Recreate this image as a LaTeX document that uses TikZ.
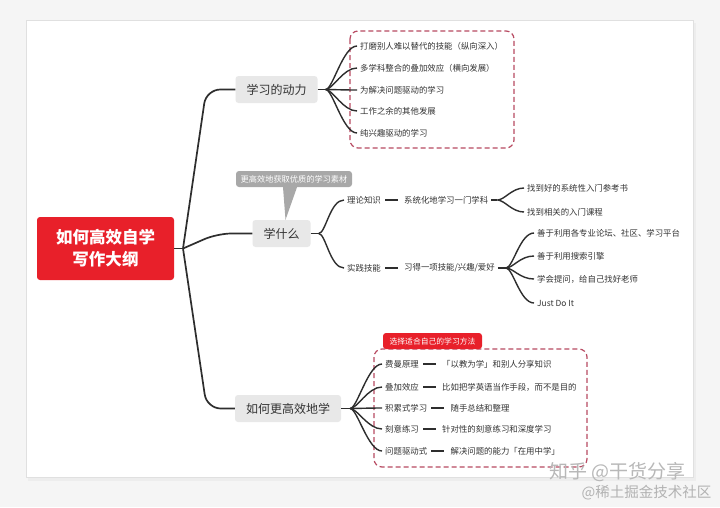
\documentclass[tikz,border=0pt]{standalone}
\usepackage{fontspec}
\setmainfont{Noto Sans CJK SC}
\usepackage{tikz}
\usetikzlibrary{positioning}
\definecolor{rootred}{HTML}{E8202A}
\definecolor{topicgray}{HTML}{E8E8E8}
\definecolor{calloutgray}{HTML}{A8A8A8}
\definecolor{linedark}{HTML}{2E2E2E}
\definecolor{frame}{HTML}{B84A62}
\definecolor{inkdark}{HTML}{333333}
\tikzset{
  rootbox/.style={fill=rootred, rounded corners=3pt, text=white, minimum width=137pt, minimum height=63pt, align=center, font=\fontsize{16.5}{22}\selectfont\bfseries},
  topic/.style={fill=topicgray, rounded corners=3pt, text=inkdark, inner xsep=11pt, minimum height=27pt, font=\fontsize{12}{14}\selectfont},
  item/.style={anchor=west, inner sep=3pt, text=inkdark, font=\fontsize{8.4}{10}\selectfont},
  trunk/.style={draw=linedark, line width=1.7pt, rounded corners=14pt},
  fan/.style={draw=linedark, line width=1.4pt},
  dashframe/.style={draw=frame, line width=1.2pt, dash pattern=on 5pt off 3pt, rounded corners=8pt}
}
\begin{document}
\begin{tikzpicture}[x=1pt, y=-1pt]
    \useasboundingbox (0,0) rectangle (720,507);
    \fill[black!4] (0,0) rectangle (720,507);
    \fill[black!7] (28,23) rectangle (696,481);
    \filldraw[fill=white, draw=black!12, line width=0.6pt] (26,20) rectangle (693,477);

    \node[rootbox] (root) at (105.5,248.5) {如何高效自学\\写作大纲};
    \coordinate (hub) at (183,248.5);
    \node[topic] (motive) at (276.5,89.5) {学习的动力};
    \node[topic] (what) at (281.5,233.5) {学什么};
    \node[topic] (how) at (288,408.5) {如何更高效地学};

    \draw[trunk] (root.east) -- (hub);
    \draw[trunk] (hub) -- ([xshift=-29pt]motive.west) -- (motive.west);
    \draw[trunk] (hub) -- ([xshift=-35pt]what.west) -- (what.west);
    \draw[trunk] (hub) -- ([xshift=-28pt]how.west) -- (how.west);

    % motivation
    \draw[dashframe] (350,31) rectangle (514,148);
    \node[item] (m1) at (357,46) {打磨别人难以替代的技能（纵向深入）};
    \node[item] (m2) at (357,68) {多学科整合的叠加效应（横向发展）};
    \node[item] (m3) at (357,90) {为解决问题驱动的学习};
    \node[item] (m4) at (357,111) {工作之余的其他发展};
    \node[item] (m5) at (357,133) {纯兴趣驱动的学习};
    \draw[fan] (motive.east) -- ++(8,0) coordinate (motiveFan);
    \foreach \i in {1,...,5}
        \draw[fan] (motiveFan) .. controls +(7,0) and +(-14,0) .. (m\i.west);

    % what to learn
    \node[fill=calloutgray, rounded corners=3pt, text=white, minimum width=116pt, minimum height=16pt, inner sep=1pt, font=\fontsize{8.2}{10}\selectfont] (tip) at (294,179) {更高效地获取优质的学习素材};
    \fill[calloutgray] ([xshift=-11pt]tip.south) -- ([xshift=3pt]tip.south) -- ([xshift=4pt]what.north) -- cycle;
    \node[item] (theory) at (344,200) {理论知识};
    \node[item] (practice) at (344,268) {实践技能};
    \node[item, right=17pt of theory] (system) {系统化地学习一门学科};
    \node[item, right=17pt of practice] (skill) {习得一项技能/兴趣/爱好};
    \draw[fan] (what.east) -- ++(8,0) coordinate (whatFan);
    \foreach \n in {theory,practice}
        \draw[fan] (whatFan) .. controls +(7,0) and +(-14,0) .. (\n.west);
    \draw[fan, shorten <=1pt, shorten >=3pt] (theory.east) -- (system.west);
    \draw[fan, shorten <=1pt, shorten >=3pt] (practice.east) -- (skill.west);

    \node[item] (s1) at (524,188) {找到好的系统性入门参考书};
    \node[item] (s2) at (524,212) {找到相关的入门课程};
    \draw[fan] (system.east) -- ++(6,0) coordinate (systemFan);
    \foreach \i in {1,2}
        \draw[fan] (systemFan) .. controls +(7,0) and +(-12,0) .. (s\i.west);

    \node[item] (k1) at (534,233) {善于利用各专业论坛、社区、学习平台};
    \node[item] (k2) at (534,256) {善于利用搜索引擎};
    \node[item] (k3) at (534,279) {学会提问，给自己找好老师};
    \node[item] (k4) at (534,303) {Just Do It};
    \draw[fan] (skill.east) -- ++(8,0) coordinate (skillFan);
    \foreach \i in {1,...,4}
        \draw[fan] (skillFan) .. controls +(7,0) and +(-14,0) .. (k\i.west);

    % how to learn
    \draw[dashframe] (374,349) rectangle (587,467);
    \fill[rootred, rounded corners=3pt] (383,349) |- (482,333) -- (482,349) -- cycle;
    \node[text=white, font=\fontsize{7.8}{9}\selectfont] (tag) at (432.5,341) {选择适合自己的学习方法};
    \node[item] (h1) at (382,364) {费曼原理};
    \node[item] (h2) at (382,387) {叠加效应};
    \node[item] (h3) at (382,408) {积累式学习};
    \node[item] (h4) at (382,429) {刻意练习};
    \node[item] (h5) at (382,451) {问题驱动式};
    \node[item, right=17pt of h1] (d1) {「以教为学」和别人分享知识};
    \node[item, right=17pt of h2] (d2) {比如把学英语当作手段，而不是目的};
    \node[item, right=17pt of h3] (d3) {随手总结和整理};
    \node[item, right=17pt of h4] (d4) {针对性的刻意练习和深度学习};
    \node[item, right=17pt of h5] (d5) {解决问题的能力「在用中学」};
    \draw[fan] (how.east) -- ++(9,0) coordinate (howFan);
    \foreach \i in {1,...,5} {
        \draw[fan] (howFan) .. controls +(7,0) and +(-14,0) .. (h\i.west);
        \draw[fan, shorten <=1pt, shorten >=3pt] (h\i.east) -- (d\i.west);
    }

    \node[anchor=west, text=black!28, font=\fontsize{19}{22}\selectfont] (mark) at (546,472) {知乎 @干货分享};
    \node[anchor=west, text=black!30, font=\fontsize{14.5}{17}\selectfont] (site) at (578,493) {@稀土掘金技术社区};
\end{tikzpicture}
\end{document}
